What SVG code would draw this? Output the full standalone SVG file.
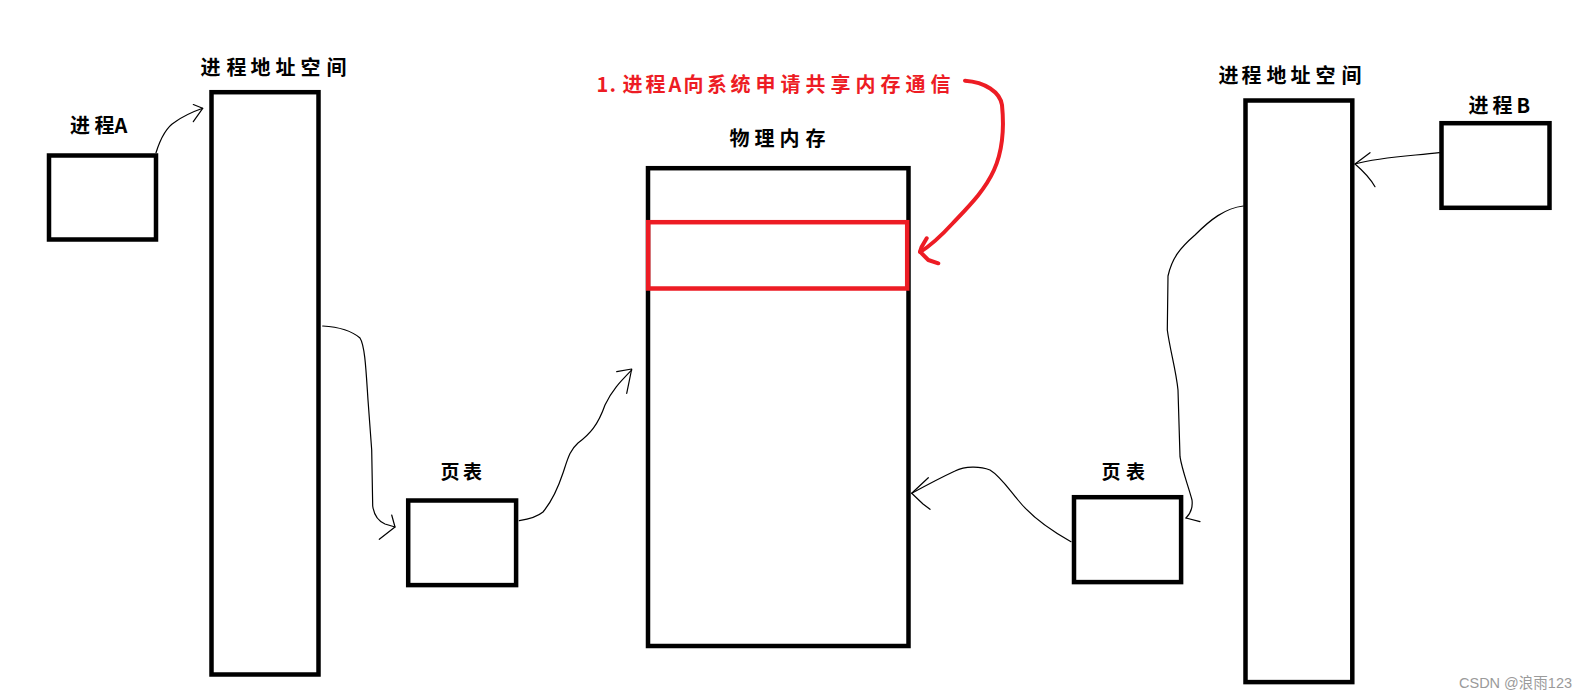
<svg xmlns="http://www.w3.org/2000/svg" width="1587" height="699" viewBox="0 0 1587 699">
<style>
.box{fill:none;stroke:#000;stroke-width:4.5}
.red{fill:none;stroke:#ED1C24;stroke-width:4.5}
.lbl{font-family:"Noto Sans CJK SC","Noto Sans",sans-serif;font-weight:700;font-size:20px;fill:#000}
.pt{font-family:"Noto Sans CJK SC","Noto Sans",sans-serif;font-weight:700;font-size:19px;fill:#000}
.rtxt{font-family:"Noto Sans CJK SC","Noto Sans",sans-serif;font-weight:700;font-size:20px;fill:#ED1C24}
.wm{font-family:"Liberation Sans","Noto Sans CJK SC",sans-serif;font-size:14.5px;fill:#9a9a9a}
.c{fill:none;stroke:#000;stroke-width:1.2;stroke-linecap:round;stroke-linejoin:round}
.rc{fill:none;stroke:#ED1C24;stroke-width:4;stroke-linecap:round;stroke-linejoin:round}
</style>
<rect width="1587" height="699" fill="#fff"/>
<g id="procA">
<rect class="box" x="49" y="155.5" width="107" height="84"/>
<text class="lbl" x="70 94.5 114.5" y="132.5">进程A</text>
</g>
<g id="addrA">
<rect class="box" x="211.5" y="92.2" width="107" height="582.3"/>
<text class="lbl" x="200.5 226.5 250.5 275.5 300.5 326.5" y="75">进程地址空间</text>
</g>
<g id="ptA">
<rect class="box" x="408.2" y="500.5" width="107.9" height="84.6"/>
<text class="pt" x="440.5 463" y="478.5">页表</text>
</g>
<g id="phys">
<rect class="box" x="648" y="168.2" width="260.5" height="477.8"/>
<text class="lbl" x="729.5 754.5 779.5 805.5" y="146">物理内存</text>
</g>
<g id="shm">
<rect class="red" x="648.2" y="222.2" width="259" height="66.3"/>
</g>
<g id="note">
<text class="rtxt" x="596.5 609.5 622.5 645.5 668.5 683.5 707 730.5 755.5 780.5 805.5 830.5 855.5 880.5 905.5 930.5" y="92">1.进程A向系统申请共享内存通信</text>
</g>
<g id="addrB">
<rect class="box" x="1245.5" y="100.5" width="106.8" height="581.6"/>
<text class="lbl" x="1218.5 1241.5 1266.5 1290.5 1315.5 1341.5" y="83">进程地址空间</text>
</g>
<g id="ptB">
<rect class="box" x="1074" y="497.2" width="107.1" height="84.9"/>
<text class="pt" x="1101.5 1126" y="479">页表</text>
</g>
<g id="procB">
<rect class="box" x="1441.5" y="123.2" width="108" height="84.6"/>
<text class="lbl" x="1468.5 1492.5 1516.5" y="112.5">进程B</text>
</g>
<g id="connectors">
<path class="c" d="M156,152.7 C160,140 165,128 175,122 C185,115 195,111 202.7,108.3"/>
<path class="c" d="M193.3,104.5 L202.7,108.3 L193.3,121.7"/>
<path class="c" d="M322.7,326 C340,327 352,331 360,338 C365,346 366,370 368,400 L371.7,450 L372.7,506 C374,515 378,521 385,524 L395,527"/>
<path class="c" d="M391.7,515 L395,527 L379.3,539.3"/>
<path class="c" d="M519.3,520.7 C530,519 537,517 543,512 C553,500 558,488 563,473 C568,458 570,450 578,443 C590,434 598,425 605,405 C612,390 620,382 631.7,370"/>
<path class="c" d="M616.7,371.7 L631.7,369 L626.7,393.3"/>
<path class="c" d="M1439.3,152.7 C1410,156 1380,157 1355,164"/>
<path class="c" d="M1370,152.7 L1355,164 C1362,170 1370,178 1375,186.7"/>
<path class="c" d="M1243.3,206 C1225,208 1210,220 1195,235 C1180,248 1172,258 1168,276 L1167.3,330 C1170,350 1176,370 1178,390 L1180,456.7 C1182,470 1188,485 1192,500 C1193,508 1190,514 1186,518"/>
<path class="c" d="M1186,518 L1200,521.7"/>
<path class="c" d="M1071,541.7 C1050,530 1030,515 1018,500 C1008,488 1000,476 990,470 C980,466 965,466 955,471 C940,478 925,486 911.7,493.3"/>
<path class="c" d="M928.3,477.7 L911.7,493.3 L923,504 L930,509.3"/>
<path class="rc" d="M965,80.7 C985,82 1000,92 1002,105 C1004,125 1003,150 994,170 C985,190 970,205 953,223 C942,235 932,245 920,252"/>
<path class="rc" d="M926.7,238.3 L921.7,246.7 L920,251.7 L928.3,260 L938.3,263.3"/>
</g>
<text class="wm" x="1459" y="688">CSDN @浪雨123</text>
</svg>
